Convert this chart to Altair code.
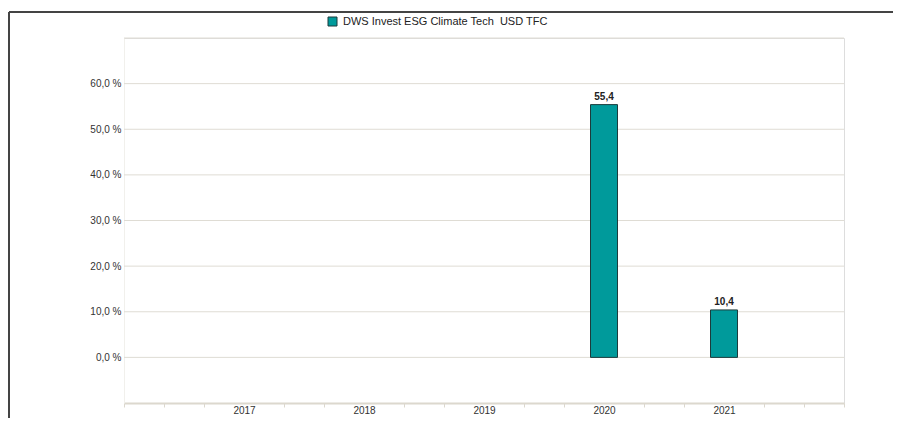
import altair as alt
import pandas as pd

# ---- data ----
years = [2017, 2018, 2019, 2020, 2021]
returns = [None, None, None, 55.4, 10.4]
series_name = "DWS Invest ESG Climate Tech\u00a0 USD TFC"
y_tick_values = [0, 10, 20, 30, 40, 50, 60, 70]
x_tick_values = [2016 + k / 3 for k in range(19)]

df = pd.DataFrame({"year": years, "value": returns})
df["series"] = series_name
df = df.dropna()
grid_df = pd.DataFrame({"value": y_tick_values})

FONT = "Liberation Sans"
TEAL = "#009a9b"
DARK = "#1d3b3c"
GRID = "#dfdcd4"

is_year = "abs(datum.value - round(datum.value)) < 0.01 && datum.value > 2016.5 && datum.value < 2021.5"

x_scale = alt.Scale(domain=[2016, 2022], nice=False, zero=False, padding=0)
y_scale = alt.Scale(domain=[-10, 70], nice=False, zero=False, padding=0)

x_axis = alt.Axis(
    title=None,
    values=x_tick_values,
    tickCount=60,
    grid=False,
    domainColor="#dcd8ce",
    domainWidth=2,
    tickColor="#dcd8ce",
    tickSize=4,
    tickWidth=1,
    tickOpacity={"condition": {"test": is_year, "value": 0}, "value": 1},
    labelExpr=f"({is_year}) ? toString(round(datum.value)) : ''",
    labelFont=FONT,
    labelFontSize=10,
    labelColor="#333333",
    labelPadding=-2,
    labelOverlap=False,
    labelFlush=False,
)

y_axis = alt.Axis(
    title=None,
    values=y_tick_values,
    tickCount=20,
    grid=False,
    domain=True,
    domainColor="#f1f0ec",
    ticks=False,
    tickSize=0,
    labelExpr="datum.value >= 70 ? '' : replace(format(datum.value, '.1f'), '.', ',') + ' %'",
    labelFont=FONT,
    labelFontSize=10,
    labelColor="#333333",
    labelPadding=3,
)

grid = alt.Chart(grid_df).mark_rule(color=GRID, strokeWidth=1).encode(
    y=alt.Y("value:Q", scale=y_scale, axis=y_axis),
    x=alt.value(0),
    x2=alt.value(720),
)

base = alt.Chart(df)

bars = base.mark_bar(size=27, stroke=DARK, strokeWidth=1).encode(
    x=alt.X("year:Q", scale=x_scale, axis=x_axis),
    y=alt.Y("value:Q", scale=y_scale, axis=y_axis),
    y2=alt.datum(0),
    color=alt.Color(
        "series:N",
        scale=alt.Scale(domain=[series_name], range=[TEAL]),
        legend=alt.Legend(
            title=None,
            orient="none",
            legendX=203,
            legendY=-22,
            symbolType="square",
            symbolSize=81,
            symbolStrokeColor=DARK,
            symbolStrokeWidth=1,
            symbolOpacity=1,
            labelFont=FONT,
            labelFontSize=11,
            labelColor="#222222",
            labelOffset=5,
            labelLimit=1000,
        ),
    ),
)

labels = base.transform_calculate(
    lbl="replace(format(datum.value, '.1f'), '.', ',')"
).mark_text(
    dy=-5, baseline="alphabetic", fontWeight="bold", fontSize=10, font=FONT, color="#222222"
).encode(
    x=alt.X("year:Q", scale=x_scale, axis=x_axis),
    y=alt.Y("value:Q", scale=y_scale, axis=y_axis),
    text="lbl:N",
)

frame_df = pd.DataFrame({"k": [0]})
frame_top = alt.Chart(frame_df).mark_rule(color="#444444", strokeWidth=2).encode(
    x=alt.value(-115), x2=alt.value(769), y=alt.value(-26)
)
frame_left = alt.Chart(frame_df).mark_rule(color="#444444", strokeWidth=2).encode(
    x=alt.value(-115), y=alt.value(-26), y2=alt.value(380)
)

chart = (
    alt.layer(grid, bars, labels, frame_top, frame_left)
    .properties(
        width=720,
        height=365,
        autosize=alt.AutoSizeParams(type="none"),
        padding={"left": 116, "top": 30, "right": 49, "bottom": 15},
    )
    .configure_view(stroke="transparent", strokeWidth=0)
    .configure_axis(grid=False)
    .configure_scale(continuousPadding=0)
    .configure(font=FONT, background="white")
)

chart.save("out.html", embed_options={"renderer": "svg", "actions": False})
